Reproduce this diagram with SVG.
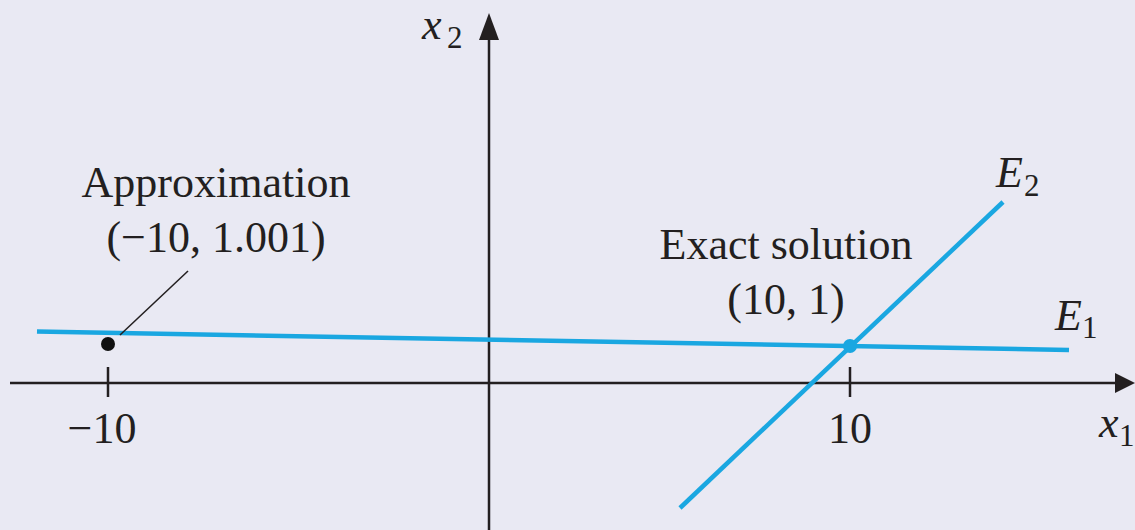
<svg xmlns="http://www.w3.org/2000/svg" width="1135" height="530" viewBox="0 0 1135 530">
<style>
text{font-family:"Liberation Serif","Times New Roman",serif;fill:#231f20;font-size:44px}
.it{font-style:italic}
.sub{font-size:31px}
.axis{stroke:#231f20;stroke-width:2.5;fill:none}
.eq{stroke:#1aa7e1;stroke-width:4.5;fill:none}
</style>
<rect width="1135" height="530" fill="#e9e9f3"/>
<g id="axes">
<line class="axis" x1="10" y1="383" x2="1118" y2="383"/>
<polygon points="1135,383 1115,373 1115,393" fill="#231f20"/>
<line class="axis" x1="489" y1="530" x2="489" y2="38"/>
<polygon points="489,13 479,40 499,40" fill="#231f20"/>
<line class="axis" x1="108" y1="367" x2="108" y2="397"/>
<line class="axis" x1="850" y1="367" x2="850" y2="397"/>
</g>
<g id="connectors">
<line class="eq" x1="37" y1="331.5" x2="1069" y2="350"/>
<line class="eq" x1="680" y1="508" x2="1003" y2="202"/>
<line x1="120" y1="335" x2="188" y2="271" stroke="#231f20" stroke-width="1.6"/>
</g>
<g id="approx">
<circle cx="108" cy="344" r="7" fill="#111"/>
<text x="216" y="197" text-anchor="middle">Approximation</text>
<text x="216" y="252" text-anchor="middle">(−10, 1.001)</text>
</g>
<g id="exact">
<circle cx="850" cy="346" r="7" fill="#1aa7e1"/>
<text x="786" y="259" text-anchor="middle">Exact solution</text>
<text x="786" y="314" text-anchor="middle">(10, 1)</text>
</g>
<g id="labels">
<text x="102" y="443" text-anchor="middle">−10</text>
<text x="850" y="443" text-anchor="middle">10</text>
<text x="422" y="39" class="it">x</text><text x="447" y="48" class="sub">2</text>
<text x="996" y="187" class="it">E</text><text x="1024" y="196" class="sub">2</text>
<text x="1055" y="330" class="it">E</text><text x="1082" y="338" class="sub">1</text>
<text x="1099" y="437" class="it">x</text><text x="1119" y="446" class="sub">1</text>
</g>
</svg>
